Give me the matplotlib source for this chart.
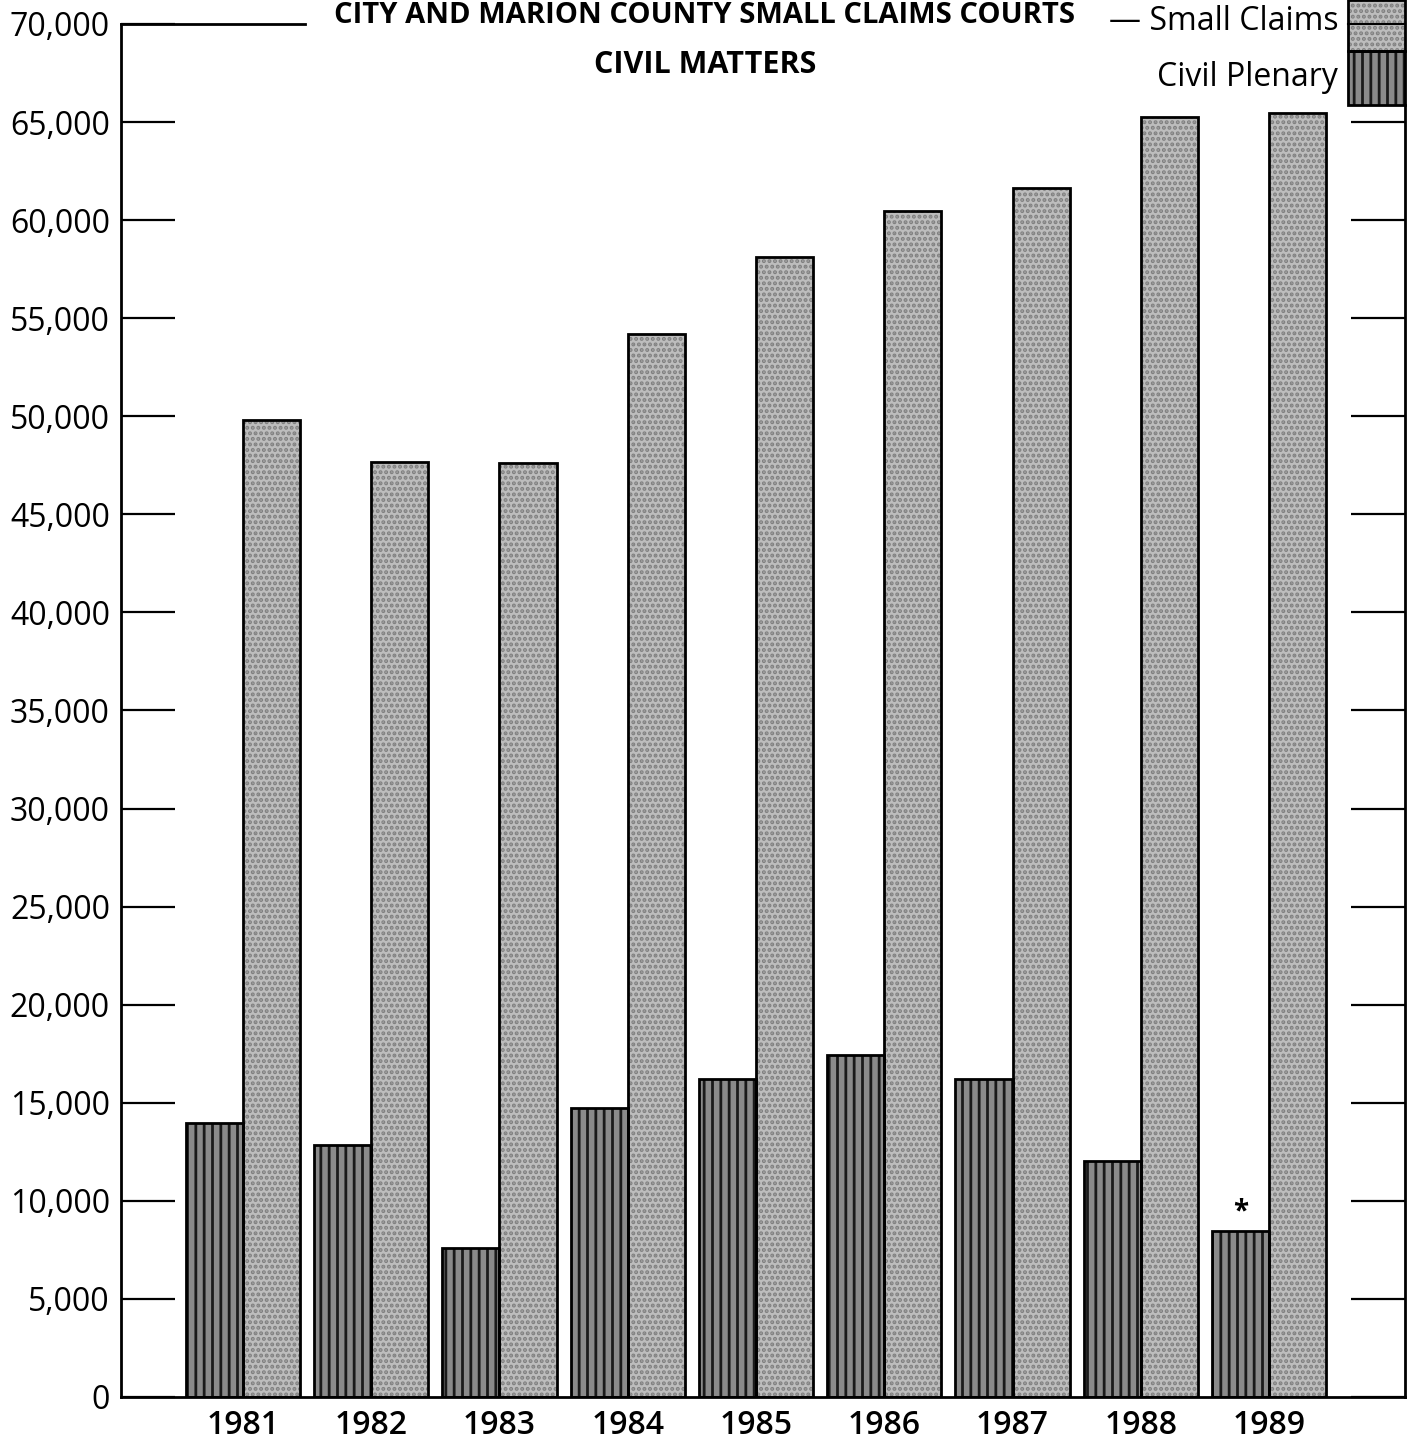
import numpy as np
import matplotlib
matplotlib.use("Agg")
import matplotlib.pyplot as plt
from matplotlib.patches import Rectangle

plt.rcParams['font.family'] = ['Open Sans', 'DejaVu Sans']

# data
years = ['1981', '1982', '1983', '1984', '1985', '1986', '1987', '1988', '1989']
civil_plenary = [13950, 12830, 7590, 14710, 16190, 17410, 16190, 12020, 8450]
small_claims = [49800, 47660, 47600, 54200, 58100, 60440, 61660, 65270, 65480]
y_ticks = list(range(0, 70001, 5000))
y_labels = [f'{v:,}' for v in y_ticks]

PLEN_FACE = '#8a8a8a'
SMALL_FACE = '#bdbdbd'

fig = plt.figure(figsize=(14.17, 14.43), dpi=100)
ax = fig.add_axes([0.0854, 0.0319, 0.9061, 0.9515])

x = np.arange(len(years))
w = 0.445

plt.rcParams['hatch.linewidth'] = 2.0
# fills with hatching, then black outlines on top
ax.bar(x - w / 2, civil_plenary, w, color=PLEN_FACE, hatch='||', edgecolor='#1a1a1a', linewidth=0, zorder=2)
ax.bar(x + w / 2, small_claims, w, color=SMALL_FACE, hatch='...', edgecolor='#808080', linewidth=0, zorder=2)
ax.bar(x - w / 2, civil_plenary, w, fill=False, edgecolor='black', linewidth=2, zorder=3)
ax.bar(x + w / 2, small_claims, w, fill=False, edgecolor='black', linewidth=2, zorder=3)

# asterisk on 1989 civil plenary
ax.text(x[-1] - w / 2, civil_plenary[-1] + 250, '*', ha='center', va='bottom', fontsize=20, fontweight='bold')

ax.set_xlim(-0.951, 9.06)
ax.set_ylim(0, 70000)
ax.set_yticks(y_ticks)
ax.set_yticklabels(y_labels, fontsize=23)
ax.set_xticks(x)
ax.set_xticklabels(years, fontsize=23, fontweight='semibold')
ax.tick_params(axis='x', length=0, pad=9)
ax.tick_params(axis='y', direction='in', length=39, width=1.6, right=True, pad=8)

for s in ['left', 'bottom', 'right']:
    ax.spines[s].set_linewidth(2)
ax.spines['top'].set_visible(False)
ax.spines['right'].set_bounds(0, 65870)

# partial top frame line left of title
ax.plot([0, 0.143], [1, 1], transform=ax.transAxes, color='black', lw=2, clip_on=False)

# title
fig.text(0.4975, 0.9995, 'CITY AND MARION COUNTY SMALL CLAIMS COURTS', ha='center', va='top',
         fontsize=21, fontweight='bold')
fig.text(0.4975, 0.955, 'CIVIL MATTERS', ha='center', va='center', fontsize=22, fontweight='bold')

# legend swatches at top right
sw_x, sw_w = 0.956, 0.044
for y0, h, face, hatch, hc in [(0.980, 0.0375, SMALL_FACE, '...', '#808080'),
                               (0.941, 0.039, PLEN_FACE, '||', '#1a1a1a')]:
    ax.add_patch(Rectangle((sw_x, y0), sw_w, h, transform=ax.transAxes, facecolor=face,
                           hatch=hatch, edgecolor=hc, linewidth=0, clip_on=False, zorder=4))
    ax.add_patch(Rectangle((sw_x, y0), sw_w, h, transform=ax.transAxes, fill=False,
                           edgecolor='black', linewidth=2, clip_on=False, zorder=5))
ax.plot([sw_x, 1.0], [1, 1], transform=ax.transAxes, color='black', lw=1.5, clip_on=False, zorder=6)

ax.text(0.948, 1.0015, '— Small Claims', transform=ax.transAxes, ha='right', va='center', fontsize=23)
ax.text(0.948, 0.961, 'Civil Plenary', transform=ax.transAxes, ha='right', va='center', fontsize=23)

fig.savefig('out.png', dpi=100)
